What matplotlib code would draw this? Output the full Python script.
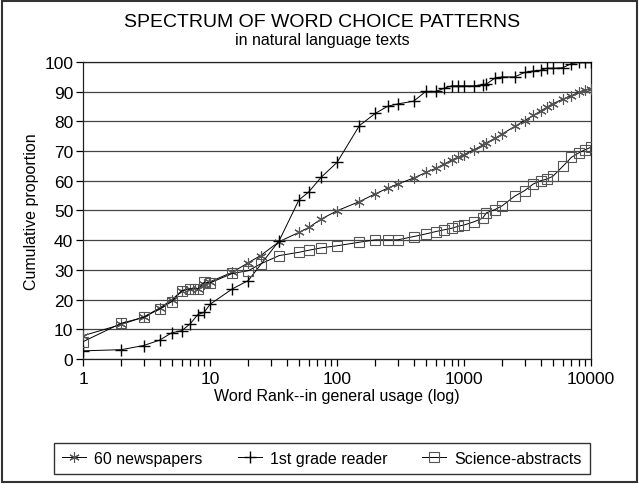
import matplotlib.pyplot as plt
from matplotlib.patches import Rectangle
from matplotlib.ticker import LogLocator, NullFormatter, FixedLocator

plt.rcParams['font.family'] = ['Liberation Sans', 'DejaVu Sans']

# word rank positions
rank_news = [1, 2, 3, 4, 5, 6, 7, 8, 9, 10, 15, 20, 25, 35, 50, 60, 75, 100, 150, 200,
             250, 300, 400, 500, 600, 700, 800, 900, 1000, 1200, 1400, 1500, 1750, 2000,
             2500, 3000, 3500, 4000, 4500, 5000, 6000, 7000, 8000, 9000, 10000]
newspapers = [7.8, 11.6, 14.1, 17.1, 19.9, 23.0, 23.6, 23.6, 25.3, 26.0, 29.2, 32.4, 34.8,
              39.5, 42.6, 44.3, 47.1, 49.9, 53.0, 55.6, 57.5, 58.9, 60.9, 62.8, 64.2, 65.7,
              67.0, 68.0, 68.8, 70.5, 72.0, 72.8, 74.3, 75.8, 78.3, 80.3, 82.0, 83.5, 84.8,
              86.0, 87.5, 88.7, 89.8, 90.5, 91.0]

rank_reader = [1, 2, 3, 4, 5, 6, 7, 8, 9, 10, 15, 20, 35, 50, 60, 75, 100, 150, 200, 250,
               300, 400, 500, 600, 700, 800, 900, 1000, 1200, 1400, 1500, 1750, 2000, 2500,
               3000, 3500, 4000, 4500, 5000, 6000, 7000, 8000, 9000, 10000]
reader = [2.7, 3.1, 4.5, 6.3, 8.8, 9.5, 11.9, 14.9, 15.7, 18.4, 23.6, 26.4, 39.8, 53.5,
          56.3, 61.2, 66.2, 78.6, 82.7, 85.1, 85.9, 86.8, 90.1, 90.1, 91.2, 92.0, 92.0,
          92.0, 92.0, 92.4, 92.6, 94.6, 95.0, 95.0, 96.5, 97.0, 97.2, 97.9, 97.9, 98.1,
          99.5, 99.9, 99.9, 100.0]

rank_sci = rank_news
science = [5.8, 12.0, 14.0, 16.8, 19.3, 23.0, 23.6, 23.6, 25.8, 25.6, 28.8, 29.7, 32.0,
           34.8, 35.9, 36.6, 37.4, 38.1, 39.3, 40.1, 40.1, 40.1, 41.2, 42.1, 42.9, 43.5,
           44.0, 44.7, 45.1, 46.2, 47.4, 49.2, 50.3, 51.6, 54.8, 56.7, 58.9, 60.0, 60.6,
           61.5, 64.9, 67.9, 69.4, 70.5, 71.3]

fig = plt.figure(figsize=(6.39, 4.85), dpi=100)
ax = fig.add_axes([0.130, 0.258, 0.795, 0.612])

ax.plot(rank_news, newspapers, color='black', lw=0.7, marker=(6, 2, 0), ms=7.5,
        mec='#555555', mew=0.8, label='60 newspapers', zorder=3)
ax.plot(rank_reader, reader, color='black', lw=0.7, marker='+', ms=8,
        mec='black', mew=1.0, label='1st grade reader', zorder=3)
ax.plot(rank_sci, science, color='black', lw=0.7, marker='s', ms=7, mfc='none',
        mec='#555555', mew=0.8, label='Science-abstracts', zorder=3)

ax.set_xscale('log')
ax.set_xlim(1, 10000)
ax.set_ylim(0, 100)
ax.xaxis.set_major_locator(FixedLocator([1, 10, 100, 1000, 10000]))
ax.set_xticklabels(['1', '10', '100', '1000', '10000'])
ax.xaxis.set_minor_locator(LogLocator(base=10, subs=range(2, 10)))
ax.xaxis.set_minor_formatter(NullFormatter())
ax.set_yticks(range(0, 101, 10))
ax.tick_params(axis='both', which='both', direction='out', length=5, width=0.9,
               labelsize=12.5, colors='black', pad=2)
ax.tick_params(axis='x', pad=4)
ax.yaxis.grid(True, color='#444444', lw=0.9)
ax.set_axisbelow(True)
for s in ax.spines.values():
    s.set_linewidth(0.9)
    s.set_color('#222222')

ax.set_xlabel('Word Rank--in general usage (log)', fontsize=11.5, labelpad=1)
ax.set_ylabel('Cumulative proportion', fontsize=11.5, labelpad=4)

fig.text(0.504, 0.953, 'SPECTRUM OF WORD CHOICE PATTERNS', ha='center', va='center',
         fontsize=14)
fig.text(0.504, 0.916, 'in natural language texts', ha='center', va='center',
         fontsize=11.5)

fig.legend(loc='center', bbox_to_anchor=(0.504, 0.053), ncol=3, fontsize=11.5,
           frameon=True, fancybox=False, edgecolor='black', handlelength=1.5,
           handletextpad=0.5, columnspacing=2.2, borderpad=0.5)

fig.patches.append(Rectangle((0.003, 0.004), 0.994, 0.992, transform=fig.transFigure,
                             fill=False, edgecolor='#333333', lw=1.5))

fig.savefig('out.png', dpi=100)
